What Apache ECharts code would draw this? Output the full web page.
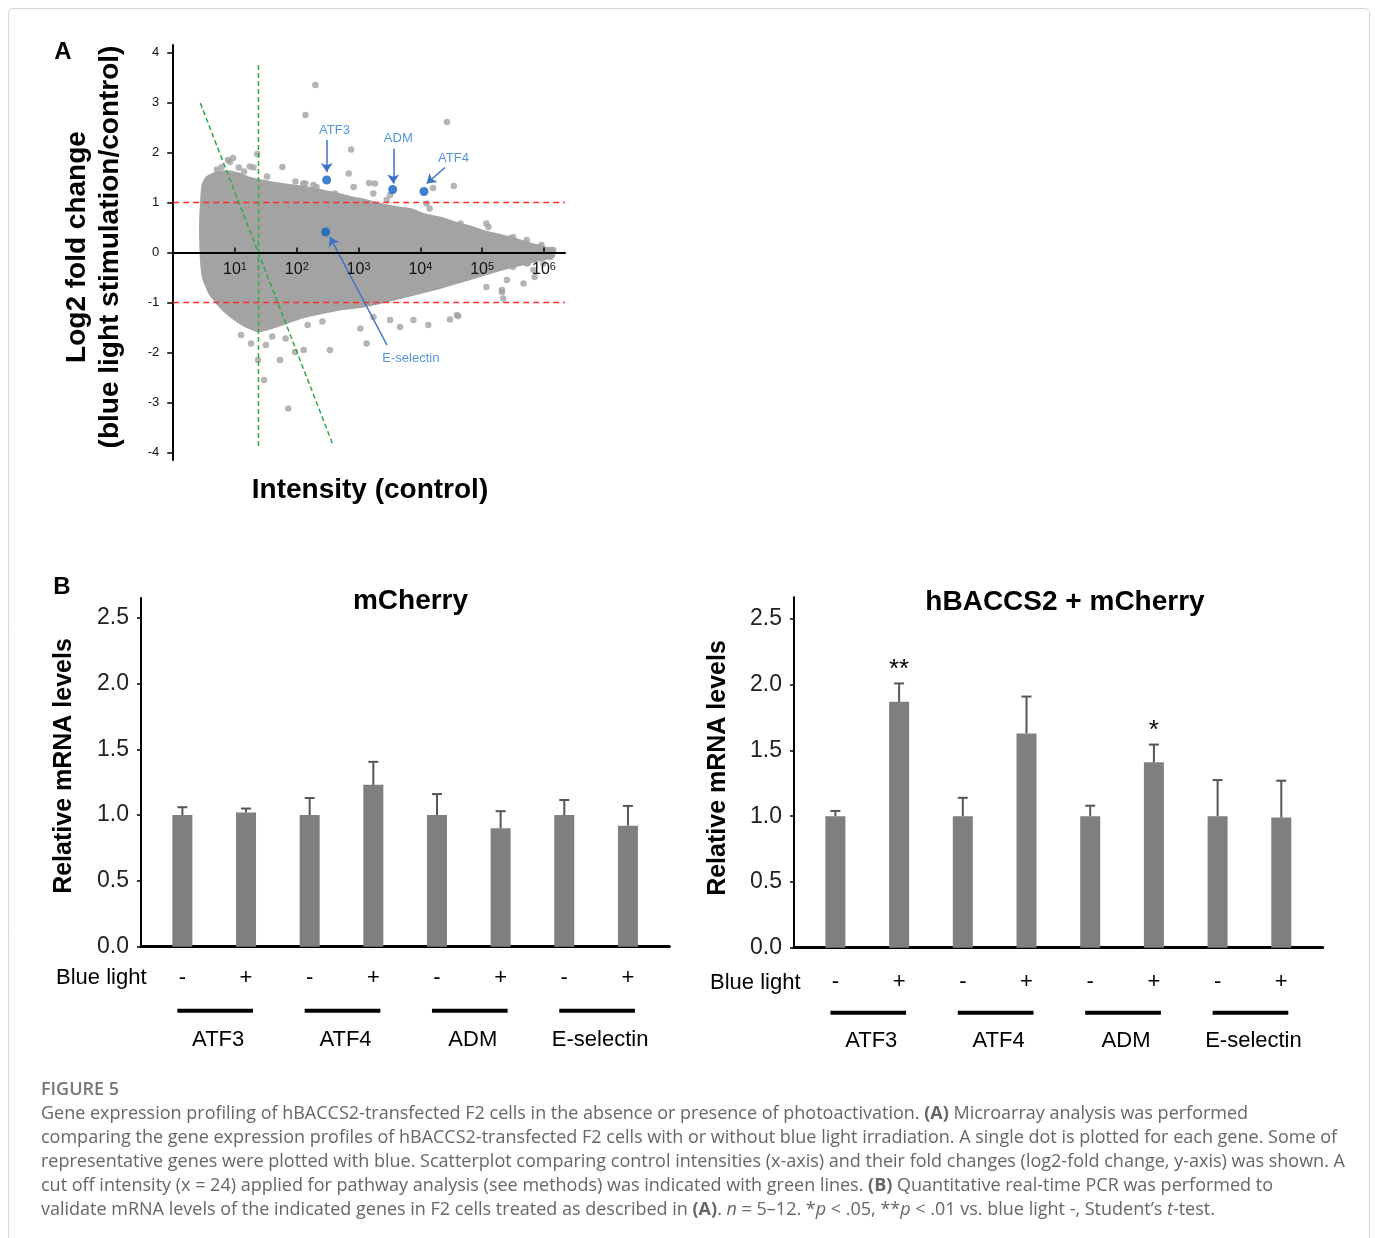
<!DOCTYPE html>
<html><head><meta charset="utf-8">
<script src="https://cdn.jsdelivr.net/npm/echarts@6/dist/echarts.min.js"></script>
<style>html,body{margin:0;padding:0;background:#fff}#c{width:1375px;height:1238px}</style>
</head><body><div id="c"></div>
<script>
// ---------- Panel A: MA plot ----------
// dense gene cloud, envelope (intensity, log2 fold change)
const cloudUpperX = [2.92, 3.1, 3.5, 4.5, 6.0, 8.3, 12.0, 17.5, 27.4, 44.4, 77.6, 136, 237, 415, 726, 1270, 2220, 3880, 6790, 11900, 20700, 36300, 63500, 111000, 194000, 340000, 593000, 1040000, 1400000];
const cloudUpperY = [1.00, 1.35, 1.48, 1.56, 1.60, 1.60, 1.55, 1.47, 1.42, 1.37, 1.33, 1.29, 1.23, 1.17, 1.09, 1.03, 0.95, 0.89, 0.85, 0.74, 0.68, 0.58, 0.50, 0.40, 0.33, 0.25, 0.16, 0.08, 0.03];
const cloudLowerX = [1400000, 861000, 409000, 194000, 92000, 43800, 20700, 9860, 4680, 2220, 1050, 500, 237, 113, 64.4, 36.8, 23.6, 14.5, 8.93, 5.71, 3.94, 3.15, 2.92, 2.82];
const cloudLowerY = [-0.07, -0.13, -0.23, -0.33, -0.45, -0.57, -0.69, -0.79, -0.89, -0.99, -1.07, -1.12, -1.20, -1.29, -1.40, -1.50, -1.55, -1.45, -1.28, -1.06, -0.80, -0.50, -0.15, 0.45];
// individual genes outside / on the edge of the dense cloud
const outlierX = [200, 138, 22.9, 9.3, 7.7, 6.1, 8.3, 17.4, 20, 58.5, 759, 692, 138, 209, 1480, 832, 26900, 16000, 34700, 1840, 3240, 14100, 126000, 44700, 25100, 316000, 525000, 912000, 1320000, 977000, 525000, 316000,
  127, 185, 415, 1730, 2850, 12600, 117000, 282000, 525000, 861000, 1410000, 5.1, 11.5, 14.0, 33, 95,
  72.8, 29.5, 23.6, 53.5, 31.6, 18.2, 93.3, 129, 66, 344, 1350, 1070, 3240, 7690, 13400, 30100, 41000, 38900, 219000, 209000, 117000, 708000, 550000,
  209000, 251000, 468000, 676000, 977000, 1260000, 4680, 1740, 12.5, 40, 150, 260];
const outlierY = [3.35, 2.75, 1.97, 1.89, 1.85, 1.71, 1.81, 1.72, 1.70, 1.71, 2.06, 1.58, 1.38, 1.31, 1.39, 1.31, 2.61, 1.29, 1.33, 1.38, 1.15, 0.88, 0.51, 0.58, 0.55, 0.31, 0.25, 0.15, 0.05, -0.09, -0.22, -0.29,
  1.38, 1.35, 1.18, 1.18, 1.05, 0.98, 0.58, 0.28, 0.18, 0.11, 0.05, 1.66, 1.70, 1.62, 1.52, 1.42,
  -3.12, -2.55, -2.15, -2.15, -1.85, -1.82, -1.99, -1.95, -1.72, -1.95, -1.82, -1.52, -1.35, -1.35, -1.45, -1.34, -1.27, -1.25, -0.92, -0.79, -0.69, -0.49, -0.21,
  -0.75, -0.55, -0.62, -0.35, -0.22, -0.09, -1.49, -1.29, -1.65, -1.68, -1.45, -1.38];
// highlighted genes
const geneNamesA = ['ATF3', 'ADM', 'ATF4', 'E-selectin'];
const geneX = [305, 3565, 11430, 294];
const geneY = [1.45, 1.26, 1.22, 0.41];
const labelX = [407, 4390, 34400, 7020];
const labelY = [2.44, 2.29, 1.88, -2.11];
const arrowFromX = [305, 3640, 25000, 2880];
const arrowFromY = [2.25, 2.08, 1.70, -1.85];
const arrowToX = [305, 3640, 12650, 344];
const arrowToY = [1.61, 1.38, 1.38, 0.31];
// reference lines
const foldCut = [1, -1];
const cutoffIntensity = 24;
const cutoffVertY = [3.75, -3.92];
const cutoffDiagX = [2.745, 386];
const cutoffDiagY = [2.99, -3.85];
const yTicksA = [-4, -3, -2, -1, 0, 1, 2, 3, 4];
const xExpLabelsA = ['', '1', '2', '3', '4', '5', '6'];

// ---------- Panel B: qPCR ----------
const genesB = ['ATF3', 'ATF4', 'ADM', 'E-selectin'];
const blueLight = ['-', '+', '-', '+', '-', '+', '-', '+'];
const mcherryMean = [1.00, 1.02, 1.00, 1.23, 1.00, 0.90, 1.00, 0.92];
const mcherrySE   = [0.06, 0.03, 0.13, 0.175, 0.16, 0.13, 0.115, 0.15];
const hbaccsMean  = [1.00, 1.87, 1.00, 1.63, 1.00, 1.41, 1.00, 0.99];
const hbaccsSE    = [0.04, 0.14, 0.14, 0.28, 0.08, 0.135, 0.275, 0.28];
const mcherrySig  = ['', '', '', '', '', '', '', ''];
const hbaccsSig   = ['', '**', '', '', '', '*', '', ''];
const yTicksB = [0, 0.5, 1.0, 1.5, 2.0, 2.5];

const F = '"Liberation Sans", Arial, Helvetica, sans-serif';
const CF = '"Open Sans", sans-serif';
const GRAY = '#a3a3a3';

const chart = echarts.init(document.getElementById('c'), null, {renderer: 'canvas'});

function barAxes(idx) {
  return {
    x: {
      type: 'value', gridIndex: idx, min: -0.65, max: 7.65,
      splitLine: {show: false},
      axisLine: {lineStyle: {color: '#000', width: 3}},
      axisTick: {show: false},
      axisLabel: {customValues: [0, 1, 2, 3, 4, 5, 6, 7], formatter: v => blueLight[Math.round(v)],
        fontFamily: F, fontSize: 22, color: '#000', margin: idx === 1 ? 20 : 23}
    },
    y: {
      type: 'value', gridIndex: idx, min: 0, max: idx === 1 ? 2.65 : 2.665,
      splitLine: {show: false},
      axisLine: {show: true, onZero: false, lineStyle: {color: '#000', width: 2}},
      axisTick: {show: true, customValues: yTicksB, length: 4, lineStyle: {color: '#000', width: 1.5}},
      axisLabel: {customValues: yTicksB, formatter: v => v.toFixed(1), fontFamily: F, fontSize: 23, color: '#222', margin: 12}
    }
  };
}
const bA1 = barAxes(1), bA2 = barAxes(2);

function barSeries(idx, mean, se, sig) {
  const data = mean.map((v, i) => [i, v]);
  return [
    {type: 'bar', xAxisIndex: idx, yAxisIndex: idx, data: data, barWidth: 20,
     itemStyle: {color: '#7f7f7f'}, z: 2},
    {type: 'custom', xAxisIndex: idx, yAxisIndex: idx, clip: false, z: 3,
     data: mean.map((v, i) => [i, v, se[i]]),
     renderItem: function (params, api) {
       const i = api.value(0), v = api.value(1), e = api.value(2);
       const p0 = api.coord([i, v]), p1 = api.coord([i, v + e]);
       const ch = [
         {type: 'line', shape: {x1: p0[0], y1: p0[1], x2: p1[0], y2: p1[1]}, style: {stroke: '#555', lineWidth: 2}},
         {type: 'line', shape: {x1: p1[0] - 5, y1: p1[1], x2: p1[0] + 5, y2: p1[1]}, style: {stroke: '#555', lineWidth: 2}}
       ];
       const s = sig[params.dataIndex];
       if (s) ch.push({type: 'text', x: p1[0], y: p1[1] - 14,
         style: {text: s, fontFamily: F, fontSize: 26, fill: '#000', align: 'center', verticalAlign: 'middle'}});
       return {type: 'group', children: ch};
     }},
    {type: 'custom', xAxisIndex: idx, yAxisIndex: idx, clip: false, z: 3,
     data: genesB.map((g, k) => [2 * k, 2 * k + 1]),
     renderItem: function (params, api) {
       const pa = api.coord([api.value(0), 0]), pb = api.coord([api.value(1), 0]);
       const off = idx === 1 ? 64 : 65;
       return {type: 'group', children: [
         {type: 'line', shape: {x1: pa[0] - 5, y1: pa[1] + off, x2: pb[0] + 7, y2: pb[1] + off}, style: {stroke: '#000', lineWidth: 4}},
         {type: 'text', x: (pa[0] + pb[0]) / 2 + 4, y: pa[1] + 93,
          style: {text: genesB[params.dataIndex], fontFamily: F, fontSize: 22, fill: '#000', align: 'center', verticalAlign: 'middle'}}
       ]};
     }}
  ];
}

const capRich = {
  b: {fontFamily: CF, fontSize: 18, fontWeight: 'bold', fill: '#666'},
  i: {fontFamily: CF, fontSize: 18, fontStyle: 'italic', fill: '#666'}
};
function captionText(x, y, text) {
  return {type: 'text', x: x, y: y, style: {text: text, fontFamily: CF, fontSize: 18, fill: '#666',
    verticalAlign: 'middle', rich: capRich}};
}

const option = {
  animation: false,
  backgroundColor: '#fff',
  grid: [
    {left: 173.2, top: 45, width: 391.8, height: 415},
    {left: 141, top: 598, width: 528.3, height: 348.7},
    {left: 794, top: 597.3, width: 528.7, height: 350.4}
  ],
  xAxis: [
    {type: 'log', logBase: 10, gridIndex: 0, min: 1, max: 2190000, z: 10,
     offset: -207.5,
     splitLine: {show: false},
     axisLine: {onZero: false, lineStyle: {color: '#000', width: 2}},
     axisTick: {inside: true, length: 5, lineStyle: {color: '#000', width: 1.5}},
     axisLabel: {fontFamily: F, fontSize: 16, color: '#111', margin: 9,
       formatter: v => { const e = Math.round(Math.log10(v)); return xExpLabelsA[e] ? '10{s|' + xExpLabelsA[e] + '}' : ''; },
       rich: {s: {fontFamily: F, fontSize: 11, verticalAlign: 'top', color: '#111'}}}},
    bA1.x, bA2.x
  ],
  yAxis: [
    {type: 'value', gridIndex: 0, min: -4.15, max: 4.15,
     splitLine: {show: false},
     axisLine: {show: true, onZero: false, lineStyle: {color: '#000', width: 2}},
     axisTick: {show: true, customValues: yTicksA, length: 6, lineStyle: {color: '#000', width: 1.5}},
     axisLabel: {customValues: yTicksA, fontFamily: F, fontSize: 13, color: '#111', margin: 14}},
    bA1.y, bA2.y
  ],
  series: [
    {type: 'custom', xAxisIndex: 0, yAxisIndex: 0, silent: true, z: 1, clip: false,
     data: [[1, 0]],
     renderItem: function (params, api) {
       const pts = [];
       for (let i = 0; i < cloudUpperX.length; i++) pts.push(api.coord([cloudUpperX[i], cloudUpperY[i]]));
       for (let i = 0; i < cloudLowerX.length; i++) pts.push(api.coord([cloudLowerX[i], cloudLowerY[i]]));
       return {type: 'polygon', shape: {points: pts, smooth: 0.15}, style: {fill: GRAY, stroke: GRAY, lineWidth: 4, lineJoin: 'round'}};
     }},
    {type: 'scatter', xAxisIndex: 0, yAxisIndex: 0, z: 2, symbolSize: 6.5, silent: true,
     itemStyle: {color: GRAY}, data: outlierX.map((x, i) => [x, outlierY[i]])},
    ...foldCut.map(v => ({type: 'line', xAxisIndex: 0, yAxisIndex: 0, z: 3, symbol: 'none', silent: true,
      lineStyle: {color: '#ff2a2a', width: 1.5, type: [6, 4]}, data: [[1, v], [2190000, v]]})),
    {type: 'line', xAxisIndex: 0, yAxisIndex: 0, z: 3, symbol: 'none', silent: true,
     lineStyle: {color: '#2eaa4a', width: 1.5, type: [5, 3]}, data: [[cutoffIntensity, cutoffVertY[0]], [cutoffIntensity, cutoffVertY[1]]]},
    {type: 'line', xAxisIndex: 0, yAxisIndex: 0, z: 3, symbol: 'none', silent: true,
     lineStyle: {color: '#2eaa4a', width: 1.5, type: [5, 3]}, data: [[cutoffDiagX[0], cutoffDiagY[0]], [cutoffDiagX[1], cutoffDiagY[1]]]},
    {type: 'lines', coordinateSystem: 'cartesian2d', xAxisIndex: 0, yAxisIndex: 0, z: 5, silent: true,
     symbol: ['none', 'arrow'], symbolSize: 9,
     lineStyle: {color: '#3a72c6', width: 1.5, opacity: 1},
     data: arrowFromX.map((x, i) => ({coords: [[x, arrowFromY[i]], [arrowToX[i], arrowToY[i]]]}))},
    {type: 'scatter', xAxisIndex: 0, yAxisIndex: 0, z: 6, symbolSize: 9, silent: true,
     itemStyle: {color: '#0c63c2'}, data: geneX.map((x, i) => [x, geneY[i]])},
    {type: 'scatter', xAxisIndex: 0, yAxisIndex: 0, z: 6, symbolSize: 1, silent: true,
     itemStyle: {color: 'rgba(0,0,0,0)'},
     label: {show: true, position: 'inside', formatter: p => geneNamesA[p.dataIndex], fontFamily: F, fontSize: 13, color: '#2a7bd3'},
     data: labelX.map((x, i) => [x, labelY[i]])},
    ...barSeries(1, mcherryMean, mcherrySE, mcherrySig),
    ...barSeries(2, hbaccsMean, hbaccsSE, hbaccsSig)
  ],
  graphic: [
    {type: 'rect', silent: true, shape: {x: 8.5, y: 8.5, width: 1361, height: 1245, r: 4}, style: {fill: 'none', stroke: '#d6d6d6', lineWidth: 1}},
    {type: 'text', x: 63, y: 52, style: {text: 'A', fontFamily: F, fontSize: 24, fontWeight: 'bold', fill: '#000', align: 'center', verticalAlign: 'middle'}},
    {type: 'text', x: 62, y: 587, style: {text: 'B', fontFamily: F, fontSize: 24, fontWeight: 'bold', fill: '#000', align: 'center', verticalAlign: 'middle'}},
    {type: 'text', x: 94, y: 247, rotation: Math.PI / 2,
     style: {text: 'Log2 fold change\n(blue light stimulation/control)', fontFamily: F, fontSize: 28, fontWeight: 'bold', lineHeight: 33, fill: '#000', align: 'center', verticalAlign: 'middle'}},
    {type: 'text', x: 370, y: 490, style: {text: 'Intensity (control)', fontFamily: F, fontSize: 28, fontWeight: 'bold', fill: '#000', align: 'center', verticalAlign: 'middle'}},
    {type: 'text', x: 410.5, y: 601, style: {text: 'mCherry', fontFamily: F, fontSize: 28, fontWeight: 'bold', fill: '#000', align: 'center', verticalAlign: 'middle'}},
    {type: 'text', x: 1065, y: 602, style: {text: 'hBACCS2 + mCherry', fontFamily: F, fontSize: 28, fontWeight: 'bold', fill: '#000', align: 'center', verticalAlign: 'middle'}},
    {type: 'text', x: 64, y: 766, rotation: Math.PI / 2, style: {text: 'Relative mRNA levels', fontFamily: F, fontSize: 25, fontWeight: 'bold', fill: '#000', align: 'center', verticalAlign: 'middle'}},
    {type: 'text', x: 718, y: 768, rotation: Math.PI / 2, style: {text: 'Relative mRNA levels', fontFamily: F, fontSize: 25, fontWeight: 'bold', fill: '#000', align: 'center', verticalAlign: 'middle'}},
    {type: 'text', x: 56, y: 978, style: {text: 'Blue light', fontFamily: F, fontSize: 22, fill: '#000', align: 'left', verticalAlign: 'middle'}},
    {type: 'text', x: 710, y: 983, style: {text: 'Blue light', fontFamily: F, fontSize: 22, fill: '#000', align: 'left', verticalAlign: 'middle'}},
    {type: 'text', x: 41, y: 1090, style: {text: 'FIGURE 5', fontFamily: CF, fontSize: 18, fontWeight: 600, fill: '#777', verticalAlign: 'middle'}},
    captionText(41, 1114, 'Gene expression profiling of hBACCS2-transfected F2 cells in the absence or presence of photoactivation. {b|(A)} Microarray analysis was performed'),
    captionText(41, 1138, 'comparing the gene expression profiles of hBACCS2-transfected F2 cells with or without blue light irradiation. A single dot is plotted for each gene. Some of'),
    captionText(41, 1162, 'representative genes were plotted with blue. Scatterplot comparing control intensities (x-axis) and their fold changes (log2-fold change, y-axis) was shown. A'),
    captionText(41, 1186, 'cut off intensity (x = 24) applied for pathway analysis (see methods) was indicated with green lines. {b|(B)} Quantitative real-time PCR was performed to'),
    captionText(41, 1210, 'validate mRNA levels of the indicated genes in F2 cells treated as described in {b|(A)}. {i|n} = 5\u201312. *{i|p} < .05, **{i|p} < .01 vs. blue light -, Student\u2019s {i|t}-test.')
  ]
};
chart.setOption(option);
</script></body></html>
